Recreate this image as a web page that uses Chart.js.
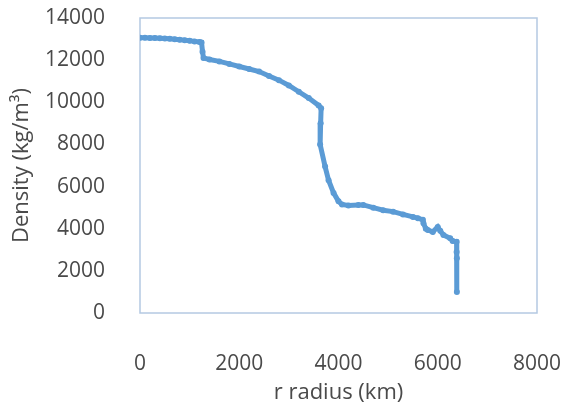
<!DOCTYPE html>
<html>
<head>
<meta charset="utf-8">
<script src="https://cdn.jsdelivr.net/npm/chart.js@4"></script>
<style>
  html, body { margin: 0; padding: 0; background: #fff; }
  #wrap { width: 565px; height: 414px; }
</style>
</head>
<body>
<div id="wrap"><canvas id="densityChart" width="565" height="414"></canvas></div>
<script>
// radius (km) and density (kg/m3)
let radius = [0, 100, 200, 300, 400, 500, 600, 700, 800, 900, 1000, 1100, 1200, 1240,
    1260, 1280, 1400, 1600, 1800, 2000, 2200, 2400, 2600, 2800, 3000, 3200, 3400, 3600, 3650,
    3640, 3630, 3730, 3800, 3900, 4000, 4070, 4200, 4400, 4500, 4700, 4900, 5100, 5300, 5500,
    5600, 5700, 5712, 5760, 5800, 5900, 6000, 6050, 6115, 6250, 6300, 6380, 6380, 6385, 6385];
let density = [13060, 13058, 13055, 13050, 13040, 13030, 13010, 12990, 12970, 12950, 12920, 12890, 12860, 12840,
    12400, 12100, 12030, 11940, 11820, 11700, 11580, 11460, 11250, 11050, 10800, 10500, 10200, 9850, 9720,
    9000, 8000, 6950, 6300, 5700, 5300, 5150, 5100, 5120, 5130, 5000, 4880, 4810, 4680, 4560,
    4500, 4420, 4260, 4000, 3940, 3850, 4080, 3900, 3700, 3550, 3420, 3380, 2900, 2600, 1000];

let xTicks = [0, 2000, 4000, 6000, 8000];
let yTicks = [0, 2000, 4000, 6000, 8000, 10000, 12000, 14000];

let points = radius.map((r, i) => ({x: r, y: density[i]}));

const textColor = '#4a4a4a';
const tickFont = {family: 'Open Sans', size: 21};
const titleFont = {family: 'Open Sans', size: 22};

// light frame around the plot area, like the spreadsheet chart
const frame = {
    id: 'frame',
    beforeDatasetsDraw(chart) {
        const {ctx, chartArea: a} = chart;
        ctx.save();
        ctx.strokeStyle = '#b4c9e2';
        ctx.lineWidth = 1.5;
        ctx.strokeRect(a.left, a.top, a.right - a.left, a.bottom - a.top);
        ctx.restore();
    }
};

new Chart(document.getElementById('densityChart'), {
    type: 'scatter',
    data: {
        datasets: [{
            data: points,
            showLine: true,
            borderColor: '#5b9bd5',
            backgroundColor: '#5b9bd5',
            borderWidth: 5,
            pointRadius: 3,
            pointBorderWidth: 0,
            tension: 0
        }]
    },
    options: {
        responsive: false,
        animation: false,
        layout: {padding: {top: 18, right: 28, left: 0, bottom: 0}},
        plugins: {legend: {display: false}, tooltip: {enabled: false}},
        scales: {
            x: {
                type: 'linear',
                min: 0,
                max: 8000,
                afterBuildTicks: s => { s.ticks = xTicks.map(v => ({value: v})); },
                afterFit: s => { s.height = 101; s.paddingLeft = 0; s.paddingRight = 0; },
                grid: {display: false},
                border: {display: false},
                ticks: {color: textColor, font: tickFont, padding: 30, maxRotation: 0,
                    callback: v => String(v)},
                title: {display: true, text: 'r radius (km)', color: textColor,
                    font: titleFont, padding: {top: 0, bottom: 8}}
            },
            y: {
                type: 'linear',
                min: 0,
                max: 14000,
                afterBuildTicks: s => { s.ticks = yTicks.map(v => ({value: v})); },
                afterFit: s => { s.width = 140; s.paddingTop = 0; s.paddingBottom = 0; },
                grid: {display: false},
                border: {display: false},
                ticks: {color: textColor, font: tickFont, padding: 27,
                    callback: v => String(v)},
                title: {display: true, text: 'Density (kg/m³)', color: textColor,
                    font: titleFont, padding: {top: 9, bottom: 0}}
            }
        }
    },
    plugins: [frame]
});
</script>
</body>
</html>
